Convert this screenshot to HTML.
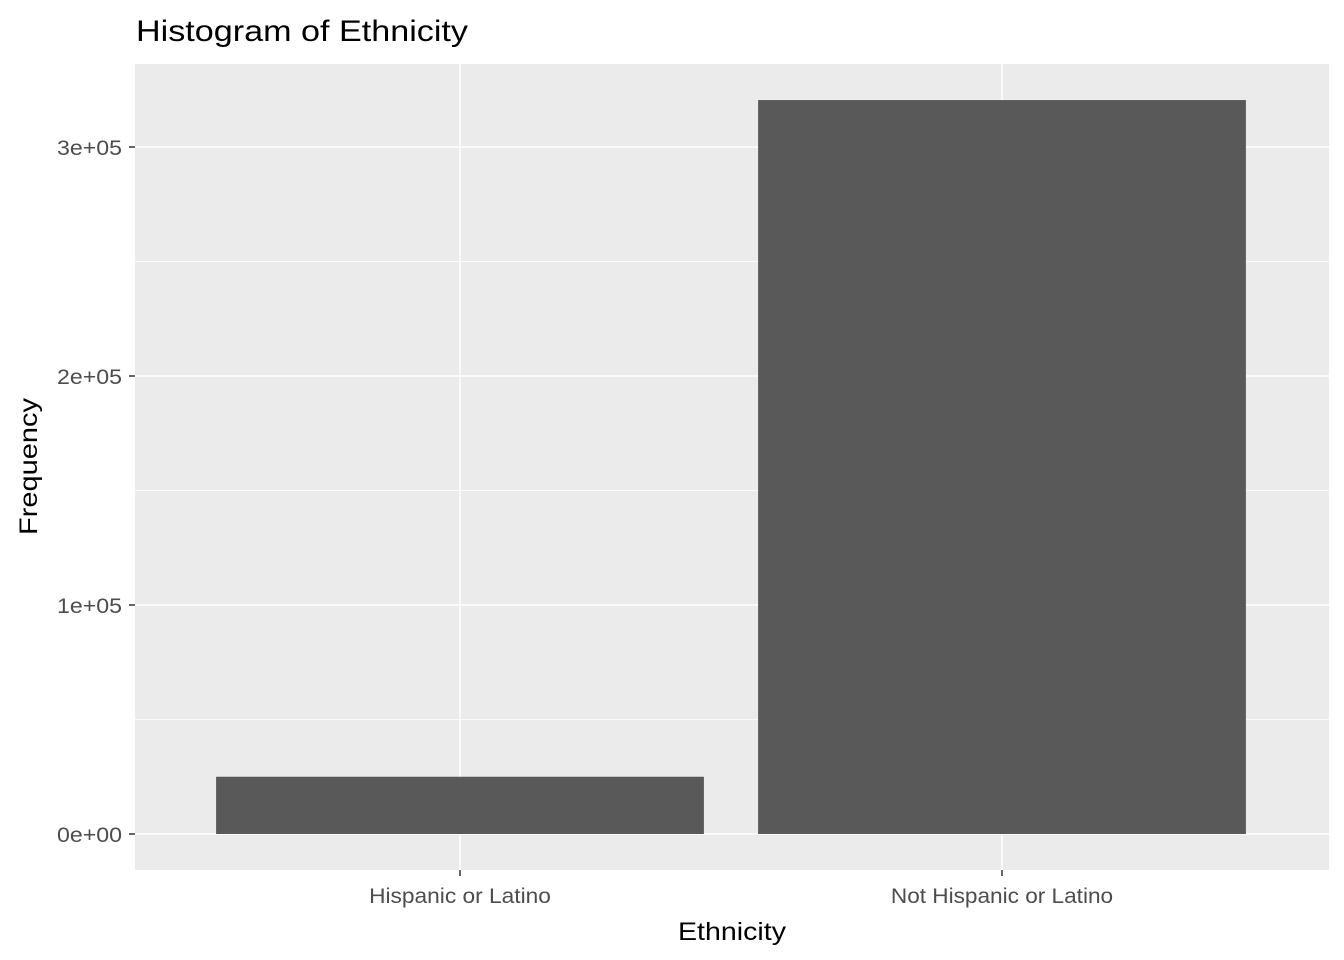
<!DOCTYPE html>
<html><head><meta charset="utf-8"><style>body{margin:0;background:#fff}svg{display:block;font-family:"Liberation Sans",Arial,sans-serif}</style></head>
<body>
<svg id="chart" width="1344" height="960" xmlns="http://www.w3.org/2000/svg">
<text x="136" y="41" font-size="30" textLength="332" lengthAdjust="spacingAndGlyphs" fill="#000">Histogram of Ethnicity</text>
<rect x="135" y="64" width="1194" height="806" fill="#ebebeb"/>
<g id="grid"></g><g id="bars"></g><g id="axes"></g>
<text x="678" y="940" font-size="25" textLength="108" lengthAdjust="spacingAndGlyphs" fill="#000">Ethnicity</text>
<text transform="translate(37,535) rotate(-90)" font-size="25" textLength="137" lengthAdjust="spacingAndGlyphs" fill="#000">Frequency</text>
</svg>
<script>
const categories = ["Hispanic or Latino", "Not Hispanic or Latino"];
const counts = [25000, 320500];
const yTicks = [0, 100000, 200000, 300000];
const yTickLabels = ["0e+00", "1e+05", "2e+05", "3e+05"];
const NS = "http://www.w3.org/2000/svg";
const y = v => 834 - v * 229 / 100000;
const band = 542, x0 = 460;
const x = i => x0 + i * band;
const charW = 10.1;
function mk(tag, attrs, parent){const e=document.createElementNS(NS,tag);for(const k in attrs)e.setAttribute(k,attrs[k]);document.getElementById(parent).appendChild(e);return e;}
for (let i=0;i<yTicks.length;i++){
  const l=mk("line",{x1:135,x2:1329,y1:y(yTicks[i]),y2:y(yTicks[i]),stroke:"#fff","stroke-width":1.5},"grid");
  
  
  if(i<yTicks.length-1){
    const m=mk("line",{x1:135,x2:1329,y1:y((yTicks[i]+yTicks[i+1])/2),y2:y((yTicks[i]+yTicks[i+1])/2),stroke:"#fff","stroke-width":0.7},"grid");
    
    
  }
  const t=mk("line",{x1:129,x2:135,y1:y(yTicks[i]),y2:y(yTicks[i]),stroke:"#333","stroke-width":1.5},"axes");
  
  
  const tx=mk("text",{x:122,y:y(yTicks[i])+8,"font-size":21,"text-anchor":"end",fill:"#4d4d4d",textLength:65,lengthAdjust:"spacingAndGlyphs"},"axes");
  tx.textContent=yTickLabels[i];
  
  
}
for (let i=0;i<categories.length;i++){
  const g=mk("line",{x1:x(i),x2:x(i),y1:64,y2:870,stroke:"#fff","stroke-width":1.5},"grid");
  
  
  const w=band*0.9;
  const b=mk("rect",{x:x(i)-w/2,y:y(counts[i]),width:w,height:y(0)-y(counts[i]),fill:"#595959"},"bars");
  
  
  const t=mk("line",{x1:x(i),x2:x(i),y1:870,y2:876,stroke:"#333","stroke-width":1.5},"axes");
  
  
  const tw=categories[i].length*charW;
  const tx=mk("text",{x:x(i)-tw/2,y:903,"font-size":21,fill:"#4d4d4d",textLength:tw,lengthAdjust:"spacingAndGlyphs"},"axes");
  tx.textContent=categories[i];
  
  
}
</script>
</body></html>
